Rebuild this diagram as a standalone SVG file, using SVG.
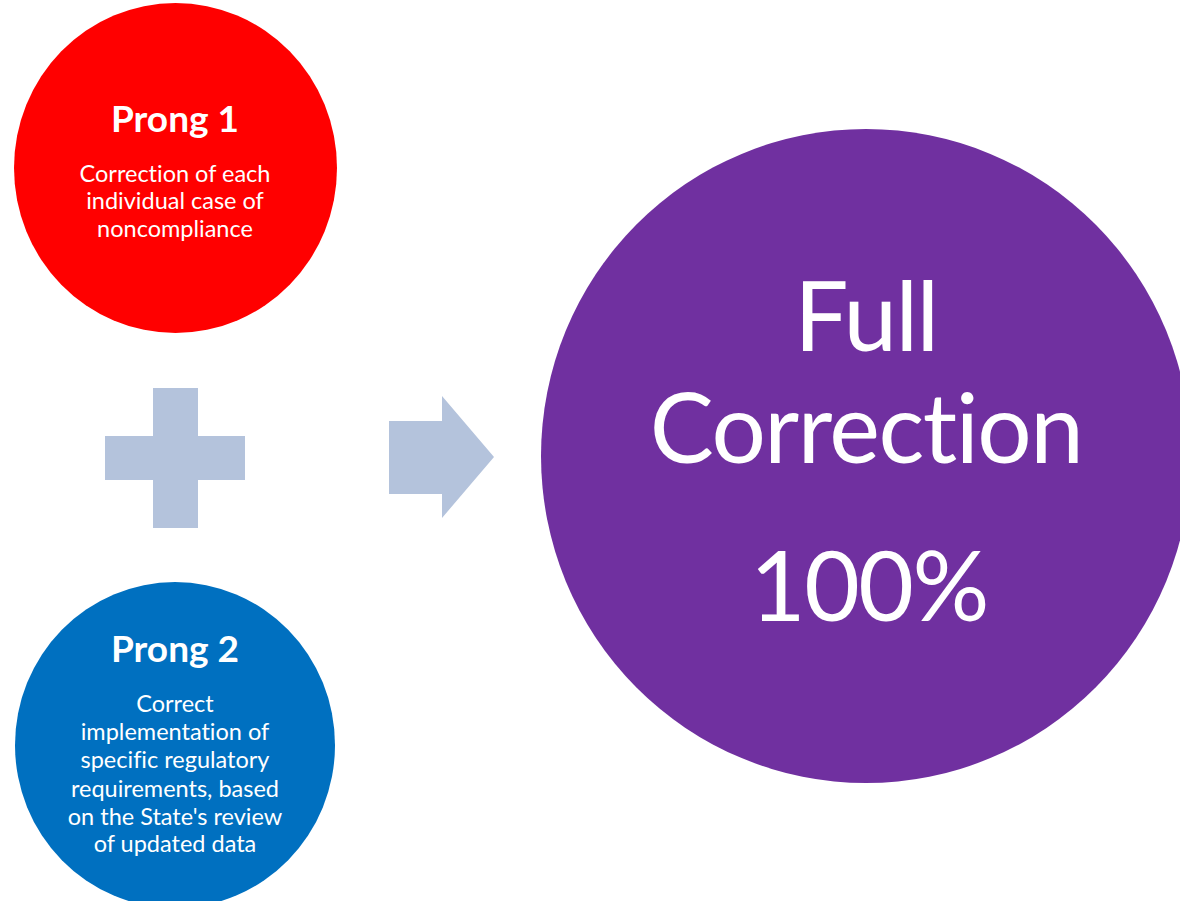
<svg xmlns="http://www.w3.org/2000/svg" width="1180" height="901" viewBox="0 0 1180 901">
  <style>
    .lbl { font-family: Lato, "Open Sans", "Liberation Sans", sans-serif; fill: #ffffff; text-anchor: middle; font-variant-ligatures: none; font-feature-settings: "liga" 0, "dlig" 0; }
    .head { font-weight: 700; font-size: 37px; }
    .body { font-size: 23.5px; }
    .big { font-size: 96px; letter-spacing: -1.5px; }
    .sym { fill: #b4c3dc; }
  </style>
  <rect width="1180" height="901" fill="#ffffff"/>

  <g id="prong1">
    <ellipse cx="175.5" cy="168" rx="161.5" ry="165" fill="#ff0000"/>
    <text class="lbl head" x="175" y="132">Prong 1</text>
    <text class="lbl body" x="175" y="182">Correction of each</text>
    <text class="lbl body" x="175" y="209">individual case of</text>
    <text class="lbl body" x="175" y="237">noncompliance</text>
  </g>

  <g id="prong2">
    <ellipse cx="175" cy="745" rx="160" ry="163" fill="#0070c0"/>
    <text class="lbl head" x="175" y="662">Prong 2</text>
    <text class="lbl body" x="175" y="712">Correct</text>
    <text class="lbl body" x="175" y="740">implementation of</text>
    <text class="lbl body" x="175" y="768">specific regulatory</text>
    <text class="lbl body" x="175" y="797">requirements, based</text>
    <text class="lbl body" x="175" y="825">on the State's review</text>
    <text class="lbl body" x="175" y="852">of updated data</text>
  </g>

  <g id="connectors">
    <!-- plus sign joining the two prongs -->
    <path class="sym" d="M153 388 H198 V436 H245 V480 H198 V528 H153 V480 H105 V436 H153 Z"/>
    <!-- block arrow pointing to the result -->
    <path class="sym" d="M389 421 H442 V396 L494 457 L442 518 V494 H389 Z"/>
  </g>

  <g id="full-correction">
    <ellipse cx="866" cy="456" rx="325" ry="327" fill="#7030a0"/>
    <text class="lbl big" x="866" y="351">Full</text>
    <text class="lbl big" x="866" y="463">Correction</text>
    <text class="lbl big" x="869" y="621">100%</text>
  </g>
</svg>
